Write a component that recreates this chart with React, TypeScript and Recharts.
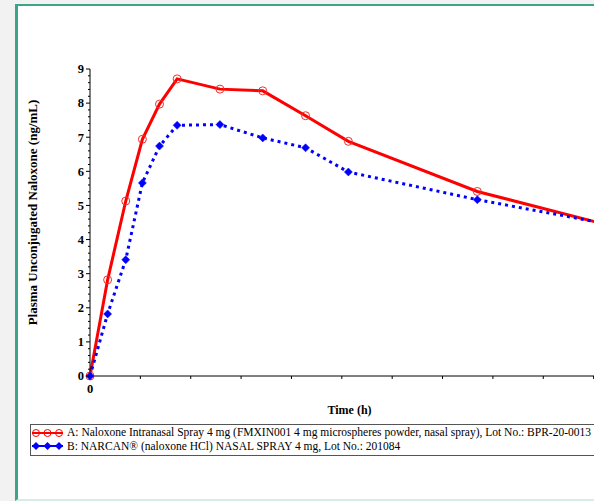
import React from "react";
import { LineChart, Line, XAxis, YAxis, Legend } from "recharts";

// time in hours, read against the 0.1 h minor ticks
const times = [0, 0.035, 0.071, 0.104, 0.138, 0.173, 0.258, 0.343, 0.428, 0.513, 0.769, 1.027];
const seriesA = [0, 2.82, 5.13, 6.94, 7.97, 8.71, 8.41, 8.36, 7.63, 6.88, 5.41, 4.43];
const seriesB = [0, 1.82, 3.41, 5.66, 6.74, 7.35, 7.37, 6.98, 6.69, 5.98, 5.17, 4.46];

const nameA = "A: Naloxone Intranasal Spray 4 mg (FMXIN001 4 mg microspheres powder, nasal spray), Lot No.: BPR-20-0013";
const nameB = "B: NARCAN\u00ae (naloxone HCl) NASAL SPRAY 4 mg, Lot No.: 201084";

const xTicks = [0, 0.1, 0.2, 0.3, 0.4, 0.5, 0.6, 0.7, 0.8, 0.9, 1.0, 1.1];
const yMajor = [0, 1, 2, 3, 4, 5, 6, 7, 8, 9];
const yTicks = Array.from({ length: 46 }, (_, i) => Math.round(i * 2) / 10);

const data = times.map((t, i) => ({ t, a: seriesA[i], b: seriesB[i] }));

const serif = '"Liberation Serif", "Times New Roman", serif';
const RED = "#ff0000";
const BLUE = "#0000ff";

function YTick(props: any) {
  const { x, y, payload } = props;
  const v = payload.value;
  const major = yMajor.includes(v);
  const len = major ? 4 : 2;
  return (
    <g>
      <line x1={x - len} x2={x} y1={y} y2={y} stroke="#000" strokeWidth={1} />
      {major && (
        <text x={x - 6} y={y} dy="0.35em" textAnchor="end" fontFamily={serif} fontWeight="bold" fontSize={12.5} fill="#000">
          {v}
        </text>
      )}
    </g>
  );
}

function CircleDot(props: any) {
  const { cx, cy, index } = props;
  if (cx == null || cy == null) return <g key={`a${index}`} />;
  return <circle key={`a${index}`} cx={cx} cy={cy} r={4} fill="none" stroke="#f03030" strokeWidth={1} />;
}

function DiamondDot(props: any) {
  const { cx, cy, index } = props;
  if (cx == null || cy == null) return <g key={`b${index}`} />;
  const s = 4;
  return (
    <path
      key={`b${index}`}
      d={`M${cx},${cy - s} L${cx + s},${cy} L${cx},${cy + s} L${cx - s},${cy} Z`}
      fill={BLUE}
      stroke={BLUE}
      strokeWidth={0.5}
    />
  );
}

function LegendIcon({ kind }: { kind: string }) {
  const xs = [4, 15.5, 27];
  return (
    <svg width={32} height={10} style={{ display: "block" }}>
      {kind === "a" ? (
        <>
          <line x1={0} x2={31} y1={5} y2={5} stroke={RED} strokeWidth={2} />
          {xs.map((x) => (
            <circle key={x} cx={x} cy={5} r={3.5} fill="none" stroke={RED} strokeWidth={1} />
          ))}
        </>
      ) : (
        <>
          <line x1={0} x2={31} y1={5} y2={5} stroke={BLUE} strokeWidth={2} />
          {xs.map((x) => (
            <path key={x} d={`M${x},1 L${x + 4},5 L${x},9 L${x - 4},5 Z`} fill={BLUE} />
          ))}
        </>
      )}
    </svg>
  );
}

function LegendBox(props: any) {
  const { payload } = props;
  return (
    <div
      style={{
        border: "1px solid #555",
        width: 620,
        height: 29,
        boxSizing: "content-box",
        background: "#fff",
        fontFamily: serif,
        fontSize: 11.5,
        lineHeight: "13.6px",
        paddingTop: 1,
      }}
    >
      {(payload || []).map((p: any) => (
        <div key={p.dataKey} style={{ display: "flex", alignItems: "center", whiteSpace: "nowrap", paddingLeft: 1 }}>
          <LegendIcon kind={p.dataKey} />
          <span style={{ marginLeft: 3, color: "#000" }}>{p.value}</span>
        </div>
      ))}
    </div>
  );
}

export default function App() {
  return (
    <div
      style={{
        position: "absolute",
        left: 0,
        top: 0,
        width: 594,
        height: 501,
        overflow: "hidden",
        background: "#f2f2f2",
      }}
    >
      <div
        style={{
          position: "absolute",
          left: 15,
          top: 4,
          width: 640,
          height: 497,
          boxSizing: "border-box",
          background: "#fff",
          borderLeft: "3px solid #3aa58a",
          borderTop: "2px solid #3aa58a",
          borderBottom: "2px solid #d4ede6",
        }}
      />
      <div style={{ position: "absolute", left: 0, top: 0 }}>
        <LineChart width={650} height={501} data={data} margin={{ top: 69, right: 6, left: 0, bottom: 95 }}>
          <XAxis
            dataKey="t"
            type="number"
            domain={[0, 1.1]}
            ticks={xTicks}
            interval={0}
            height={30}
            tickSize={3}
            tickMargin={5}
            stroke="#000"
            tickFormatter={(v: number) => (v === 0 ? "0" : "")}
            tick={{ fill: "#000", fontFamily: serif, fontWeight: "bold", fontSize: 12.5 }}
            label={{
              content: (p: any) => {
                const vb = p.viewBox;
                return (
                  <text x={vb.x + 259.5} y={vb.y + 34} dy="0.35em" textAnchor="middle" fontFamily={serif} fontWeight="bold" fontSize={12} fill="#000">
                    Time (h)
                  </text>
                );
              },
            }}
          />
          <YAxis
            type="number"
            domain={[0, 9]}
            ticks={yTicks}
            interval={0}
            width={90}
            tickSize={0}
            tickMargin={0}
            tickLine={false}
            stroke="#000"
            tick={<YTick />}
            label={{
              content: (p: any) => {
                const vb = p.viewBox;
                const cx = vb.x + 32;
                const cy = vb.y + vb.height / 2 - 10;
                return (
                  <text x={cx} y={cy} transform={`rotate(-90, ${cx}, ${cy})`} textAnchor="middle" dy="0.35em" fontFamily={serif} fontWeight="bold" fontSize={13} fill="#000">
                    Plasma Unconjugated Naloxone (ng/mL)
                  </text>
                );
              },
            }}
          />
          <Legend
            layout="horizontal"
            verticalAlign="middle"
            align="center"
            content={<LegendBox />}
            wrapperStyle={{ position: "absolute", left: 30, top: 424, width: 640 }}
          />
          <Line
            name={nameA}
            dataKey="a"
            type="linear"
            stroke={RED}
            strokeWidth={3}
            dot={CircleDot}
            activeDot={false}
            isAnimationActive={false}
          />
          <Line
            name={nameB}
            dataKey="b"
            type="linear"
            stroke={BLUE}
            strokeWidth={3}
            strokeDasharray="3 4"
            dot={DiamondDot}
            activeDot={false}
            isAnimationActive={false}
          />
        </LineChart>
      </div>
    </div>
  );
}
